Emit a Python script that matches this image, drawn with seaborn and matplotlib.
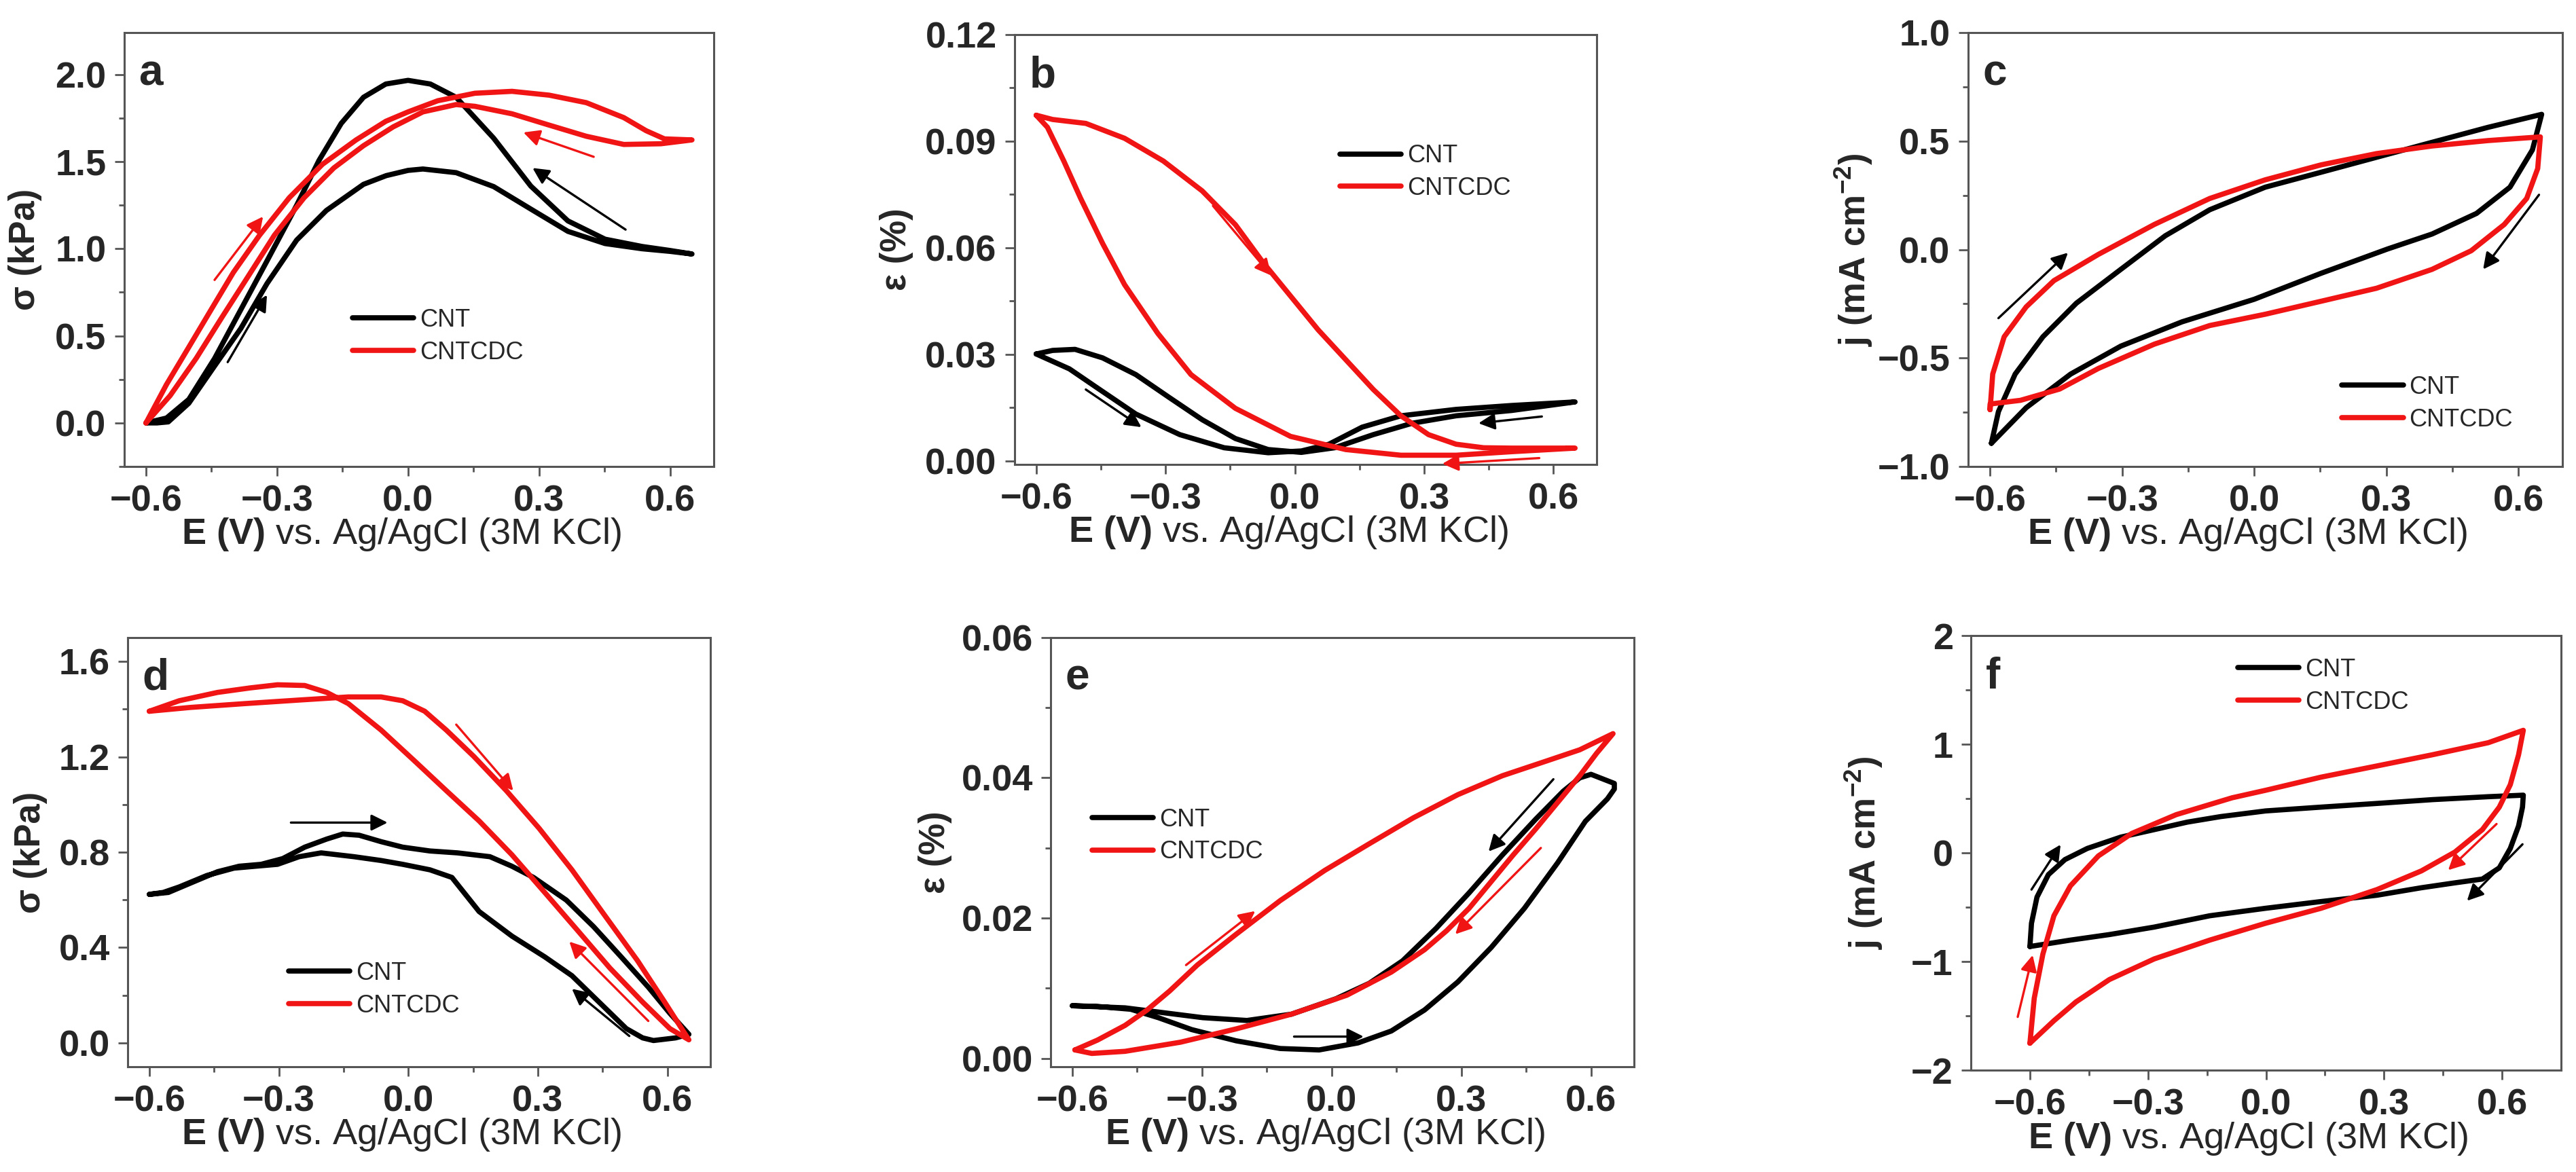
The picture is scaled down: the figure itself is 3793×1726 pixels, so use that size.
import pandas as pd
import matplotlib.pyplot as plt
import seaborn as sns

# ---- data (E in V, values per panel) ----
# a: stress sigma (kPa)
a_cnt_E = [-0.6, -0.575, -0.549, -0.502, -0.443, -0.383, -0.323, -0.255, -0.187, -0.102, -0.05, 0.0, 0.034,
           0.11, 0.196, 0.281, 0.366, 0.451, 0.536, 0.60, 0.65,
           0.60, 0.536, 0.451, 0.366, 0.281, 0.196, 0.11, 0.051, 0.0, -0.051, -0.102, -0.153, -0.204,
           -0.255, -0.323, -0.383, -0.443, -0.502, -0.553, -0.6]
a_cnt_s = [0.0, 0.0, 0.006, 0.113, 0.327, 0.542, 0.80, 1.05, 1.22, 1.37, 1.42, 1.45, 1.458,
           1.437, 1.357, 1.228, 1.10, 1.03, 1.00, 0.985, 0.97,
           0.99, 1.013, 1.055, 1.16, 1.36, 1.635, 1.87, 1.946, 1.967, 1.946, 1.87, 1.72, 1.507,
           1.25, 0.93, 0.65, 0.37, 0.135, 0.028, 0.0]
a_cdc_E = [-0.6, -0.553, -0.502, -0.451, -0.40, -0.34, -0.272, -0.196, -0.119, -0.051, 0.0, 0.068, 0.153,
           0.238, 0.323, 0.408, 0.494, 0.545, 0.587, 0.65,
           0.579, 0.494, 0.408, 0.323, 0.238, 0.153, 0.11, 0.034, -0.034, -0.102, -0.17, -0.238,
           -0.306, -0.366, -0.426, -0.485, -0.545, -0.6]
a_cdc_s = [0.0, 0.221, 0.435, 0.65, 0.864, 1.078, 1.293, 1.485, 1.625, 1.732, 1.786, 1.85, 1.893,
           1.904, 1.882, 1.839, 1.753, 1.678, 1.631, 1.625,
           1.603, 1.599, 1.646, 1.71, 1.775, 1.818, 1.828, 1.786, 1.70, 1.592, 1.464, 1.293,
           1.078, 0.842, 0.607, 0.371, 0.156, 0.0]

# b: strain epsilon (%)
b_cnt_E = [-0.6, -0.523, -0.459, -0.369, -0.267, -0.164, -0.062, 0.015, 0.079, 0.156, 0.246, 0.374, 0.503, 0.65,
           0.503, 0.374, 0.272, 0.182, 0.092, 0.015, -0.062, -0.138, -0.215, -0.292, -0.369, -0.446,
           -0.510, -0.562, -0.6]
b_cnt_e = [0.0301, 0.0259, 0.0206, 0.0132, 0.0074, 0.0037, 0.0023, 0.0028, 0.0047, 0.0095, 0.0127, 0.0145,
           0.0156, 0.0166,
           0.0142, 0.0127, 0.0106, 0.0074, 0.0037, 0.0024, 0.0032, 0.0063, 0.0116, 0.0179, 0.0243, 0.029,
           0.0314, 0.0311, 0.0301]
b_cdc_E = [-0.6, -0.562, -0.485, -0.395, -0.305, -0.215, -0.138, -0.074, -0.010, 0.054, 0.118, 0.182, 0.246,
           0.31, 0.374, 0.438, 0.503, 0.65,
           0.503, 0.374, 0.246, 0.118, -0.010, -0.138, -0.241, -0.318, -0.395, -0.446, -0.497, -0.536,
           -0.574, -0.6]
b_cdc_e = [0.0973, 0.0961, 0.095, 0.0908, 0.0844, 0.0760, 0.0665, 0.0559, 0.0464, 0.0369, 0.0285, 0.0201,
           0.0127, 0.0074, 0.0047, 0.0037, 0.0036, 0.0036,
           0.0026, 0.0016, 0.0016, 0.0032, 0.0069, 0.0148, 0.0243, 0.0359, 0.0496, 0.0612, 0.0739, 0.0844,
           0.0939, 0.0973]

# c: current density j (mA cm-2)
c_cnt_E = [-0.597, -0.581, -0.543, -0.48, -0.404, -0.303, -0.202, -0.101, 0.025, 0.152, 0.278, 0.404, 0.531,
           0.653,
           0.632, 0.581, 0.505, 0.404, 0.303, 0.152, 0.0, -0.164, -0.303, -0.417, -0.518, -0.597]
c_cnt_j = [-0.893, -0.747, -0.574, -0.402, -0.247, -0.091, 0.064, 0.184, 0.288, 0.357, 0.426, 0.495, 0.564,
           0.624,
           0.46, 0.288, 0.167, 0.072, 0.003, -0.109, -0.229, -0.333, -0.445, -0.574, -0.729, -0.893]
c_cdc_E = [-0.6, -0.594, -0.568, -0.518, -0.455, -0.354, -0.227, -0.101, 0.025, 0.152, 0.278, 0.404, 0.531,
           0.65,
           0.644, 0.619, 0.568, 0.493, 0.404, 0.278, 0.152, 0.025, -0.101, -0.227, -0.354, -0.442, -0.531,
           -0.6, -0.6]
c_cdc_j = [-0.738, -0.574, -0.402, -0.264, -0.143, -0.022, 0.116, 0.236, 0.322, 0.391, 0.443, 0.478, 0.503,
           0.52,
           0.374, 0.236, 0.116, -0.005, -0.091, -0.178, -0.238, -0.298, -0.35, -0.436, -0.548, -0.643,
           -0.695, -0.712, -0.738]

# d: stress sigma (kPa)
d_cnt_E = [-0.6, -0.556, -0.505, -0.442, -0.392, -0.341, -0.291, -0.24, -0.189, -0.152, -0.114, -0.063,
           -0.013, 0.05, 0.114, 0.189, 0.24, 0.29, 0.366, 0.429, 0.493, 0.556, 0.606, 0.65,
           0.619, 0.568, 0.543, 0.505, 0.442, 0.379, 0.316, 0.24, 0.164, 0.101, 0.05, -0.013, -0.063,
           -0.126, -0.202, -0.253, -0.303, -0.354, -0.404, -0.467, -0.531, -0.568, -0.6]
d_cnt_s = [0.623, 0.631, 0.67, 0.718, 0.741, 0.749, 0.773, 0.821, 0.855, 0.876, 0.871, 0.844,
           0.821, 0.805, 0.797, 0.781, 0.741, 0.694, 0.599, 0.488, 0.361, 0.234, 0.124, 0.036,
           0.021, 0.01, 0.021, 0.06, 0.171, 0.282, 0.361, 0.448, 0.551, 0.694, 0.726, 0.749, 0.765,
           0.781, 0.797, 0.781, 0.749, 0.741, 0.733, 0.702, 0.654, 0.631, 0.623]
d_cdc_E = [-0.6, -0.505, -0.379, -0.253, -0.139, -0.063, -0.013, 0.038, 0.088, 0.152, 0.227, 0.303, 0.379,
           0.455, 0.531, 0.594, 0.65,
           0.606, 0.543, 0.467, 0.392, 0.316, 0.24, 0.164, 0.088, 0.013, -0.063, -0.139, -0.189, -0.24,
           -0.303, -0.366, -0.442, -0.531, -0.6]
d_cdc_s = [1.391, 1.407, 1.423, 1.438, 1.451, 1.451, 1.435, 1.391, 1.312, 1.201, 1.058, 0.90, 0.726,
           0.535, 0.345, 0.171, 0.013,
           0.06, 0.171, 0.314, 0.472, 0.631, 0.789, 0.931, 1.058, 1.185, 1.312, 1.423, 1.47, 1.499,
           1.502, 1.489, 1.47, 1.435, 1.391]

# e: strain epsilon (%)
e_cnt_E = [-0.6, -0.542, -0.465, -0.401, -0.324, -0.221, -0.119, -0.029, 0.061, 0.138, 0.215, 0.292, 0.369,
           0.446, 0.523, 0.587, 0.638, 0.654, 0.654, 0.6,
           0.574, 0.536, 0.472, 0.395, 0.318, 0.241, 0.164, 0.087, 0.01, -0.093, -0.196, -0.298, -0.401,
           -0.478, -0.6]
e_cnt_e = [0.0075, 0.0074, 0.007, 0.0058, 0.0041, 0.0025, 0.0014, 0.0012, 0.0022, 0.0039, 0.0069, 0.0109,
           0.0158, 0.0214, 0.0279, 0.0338, 0.037, 0.0384, 0.0392, 0.0405,
           0.04, 0.0381, 0.0341, 0.029, 0.0236, 0.0185, 0.0139, 0.0107, 0.0085, 0.0063, 0.0054, 0.0058,
           0.0066, 0.0072, 0.0075]
e_cdc_E = [-0.594, -0.542, -0.478, -0.427, -0.375, -0.311, -0.221, -0.119, -0.016, 0.087, 0.189, 0.292,
           0.395, 0.497, 0.574, 0.651,
           0.613, 0.574, 0.523, 0.472, 0.42, 0.369, 0.318, 0.266, 0.215, 0.138, 0.035, -0.093, -0.221,
           -0.35, -0.478, -0.555, -0.594]
e_cdc_e = [0.0012, 0.0026, 0.0047, 0.0069, 0.0096, 0.0133, 0.0177, 0.0225, 0.0268, 0.0306, 0.0343, 0.0376,
           0.0403, 0.0424, 0.044, 0.0463,
           0.0435, 0.0403, 0.0365, 0.0327, 0.029, 0.0252, 0.0214, 0.0182, 0.0155, 0.0123, 0.009, 0.0063,
           0.0042, 0.0023, 0.001, 0.0007, 0.0012]

# f: current density j (mA cm-2)
f_cnt_E = [-0.6, -0.596, -0.582, -0.553, -0.511, -0.454, -0.369, -0.284, -0.2, -0.115, -0.001, 0.14, 0.282,
           0.423, 0.565, 0.654,
           0.652, 0.642, 0.621, 0.593, 0.55, 0.48, 0.395, 0.282, 0.14, -0.001, -0.143, -0.284, -0.398,
           -0.497, -0.6]
f_cnt_j = [-0.862, -0.648, -0.407, -0.2, -0.062, 0.041, 0.145, 0.214, 0.283, 0.334, 0.386, 0.421, 0.455,
           0.49, 0.517, 0.531,
           0.421, 0.248, 0.041, -0.138, -0.241, -0.276, -0.321, -0.39, -0.448, -0.51, -0.579, -0.683,
           -0.752, -0.803, -0.862]
f_cdc_E = [-0.6, -0.589, -0.567, -0.539, -0.497, -0.426, -0.341, -0.228, -0.086, -0.001, 0.14, 0.282, 0.423,
           0.565, 0.654,
           0.642, 0.621, 0.593, 0.55, 0.48, 0.395, 0.282, 0.14, -0.001, -0.143, -0.284, -0.398, -0.483,
           -0.539, -0.6]
f_cdc_j = [-1.752, -1.338, -0.931, -0.579, -0.303, -0.028, 0.179, 0.352, 0.507, 0.576, 0.697, 0.80, 0.903,
           1.014, 1.128,
           0.903, 0.628, 0.421, 0.214, 0.007, -0.166, -0.338, -0.51, -0.648, -0.803, -0.976, -1.166,
           -1.372, -1.545, -1.752]

samples = ['CNT', 'CNTCDC']
colors = {'CNT': '#000000', 'CNTCDC': '#f01414'}
x_ticks = [-0.6, -0.3, 0.0, 0.3, 0.6]
x_minor = [-0.45, -0.15, 0.15, 0.45]

# panel layout / styling
panels = [
    dict(tag='a', data=(a_cnt_E, a_cnt_s, a_cdc_E, a_cdc_s), rect=[0.0482, 0.602, 0.2289, 0.370],
         ylim=(-0.24, 2.24), yt=[0.0, 0.5, 1.0, 1.5, 2.0], ym=[-0.25, 0.25, 0.75, 1.25, 1.75],
         xlim=(-0.65, 0.7), ylabel='σ (kPa)', ylx=-0.139, leg=(0.387, 0.30)),
    dict(tag='b', data=(b_cnt_E, b_cnt_e, b_cdc_E, b_cdc_e), rect=[0.3939, 0.6037, 0.2259, 0.3668],
         ylim=(-0.001, 0.12), yt=[0.0, 0.03, 0.06, 0.09, 0.12], ym=[0.015, 0.045, 0.075, 0.105],
         xlim=(-0.65, 0.7), ylabel='ε (%)', ylx=-0.174, leg=(0.559, 0.68)),
    dict(tag='c', data=(c_cnt_E, c_cnt_j, c_cdc_E, c_cdc_j), rect=[0.7640, 0.602, 0.2307, 0.370],
         ylim=(-1.0, 1.0), yt=[-1.0, -0.5, 0.0, 0.5, 1.0], ym=[-0.75, -0.25, 0.25, 0.75],
         xlim=(-0.65, 0.7), ylabel=r'$\mathbf{j\ (mA\ cm^{-2})}$', ylx=-0.158, leg=(0.629, 0.145)),
    dict(tag='d', data=(d_cnt_E, d_cnt_s, d_cdc_E, d_cdc_s), rect=[0.0496, 0.0898, 0.2262, 0.3662],
         ylim=(-0.1, 1.7), yt=[0.0, 0.4, 0.8, 1.2, 1.6], ym=[0.2, 0.6, 1.0, 1.4],
         xlim=(-0.65, 0.7), ylabel='σ (kPa)', ylx=-0.1375, leg=(0.276, 0.18)),
    dict(tag='e', data=(e_cnt_E, e_cnt_e, e_cdc_E, e_cdc_e), rect=[0.4079, 0.0898, 0.2265, 0.3662],
         ylim=(-0.0012, 0.06), yt=[0.0, 0.02, 0.04, 0.06], ym=[0.01, 0.03, 0.05],
         xlim=(-0.65, 0.7), ylabel='ε (%)', ylx=-0.169, leg=(0.071, 0.538)),
    dict(tag='f', data=(f_cnt_E, f_cnt_j, f_cdc_E, f_cdc_j), rect=[0.7651, 0.0869, 0.2291, 0.3708],
         ylim=(-2.0, 2.0), yt=[-2, -1, 0, 1, 2], ym=[-1.5, -0.5, 0.5, 1.5],
         xlim=(-0.75, 0.75), ylabel=r'$\mathbf{j\ (mA\ cm^{-2})}$', ylx=-0.146, leg=(0.452, 0.884)),
]

# scan-direction arrows: (panel, colour, tail, head)
arrows = [
    ('a', 'CNT', (-0.413, 0.349), (-0.323, 0.735)), ('a', 'CNT', (0.498, 1.11), (0.285, 1.464)),
    ('a', 'CNTCDC', (-0.443, 0.821), (-0.332, 1.185)), ('a', 'CNTCDC', (0.425, 1.528), (0.264, 1.668)),
    ('b', 'CNT', (-0.485, 0.0201), (-0.356, 0.0095)), ('b', 'CNT', (0.573, 0.0125), (0.426, 0.0106)),
    ('b', 'CNTCDC', (-0.19, 0.0718), (-0.055, 0.0522)), ('b', 'CNTCDC', (0.567, 0.0008), (0.342, -0.0008)),
    ('c', 'CNT', (-0.581, -0.316), (-0.423, -0.014)), ('c', 'CNT', (0.647, 0.253), (0.52, -0.091)),
    ('d', 'CNT', (-0.272, 0.924), (-0.048, 0.924)), ('d', 'CNT', (0.512, 0.029), (0.379, 0.227)),
    ('d', 'CNTCDC', (0.111, 1.335), (0.243, 1.058)), ('d', 'CNTCDC', (0.556, 0.092), (0.373, 0.425)),
    ('e', 'CNT', (0.513, 0.0398), (0.363, 0.0295)), ('e', 'CNT', (-0.087, 0.0031), (0.074, 0.0031)),
    ('e', 'CNTCDC', (-0.337, 0.0133), (-0.177, 0.021)), ('e', 'CNTCDC', (0.484, 0.030), (0.286, 0.0177)),
    ('f', 'CNT', (-0.596, -0.338), (-0.522, 0.076)), ('f', 'CNT', (0.652, 0.079), (0.511, -0.441)),
    ('f', 'CNTCDC', (-0.631, -1.51), (-0.593, -0.941)), ('f', 'CNTCDC', (0.586, 0.266), (0.463, -0.159)),
]

sns.set_theme(style='ticks')
narrow = ['Liberation Sans Narrow', 'Liberation Sans', 'DejaVu Sans']
plt.rcParams['font.family'] = narrow
plt.rcParams['mathtext.fontset'] = 'custom'
plt.rcParams['mathtext.rm'] = 'Liberation Sans'
plt.rcParams['mathtext.it'] = 'Liberation Sans:italic'
plt.rcParams['mathtext.bf'] = 'Liberation Sans:bold'

spine_col = '#555555'
fig = plt.figure(figsize=(37.93, 17.26), dpi=100)

for p in panels:
    ax = fig.add_axes(p['rect'])
    cE, cv, rE, rv = p['data']
    df = pd.concat([
        pd.DataFrame({'E': cE, 'v': cv, 'sample': 'CNT'}),
        pd.DataFrame({'E': rE, 'v': rv, 'sample': 'CNTCDC'}),
    ], ignore_index=True)
    sns.lineplot(data=df, x='E', y='v', hue='sample', hue_order=samples, palette=colors,
                 sort=False, estimator=None, lw=5.5, ax=ax)
    for ln in ax.get_lines():
        ln.set_solid_joinstyle('round')
        ln.set_solid_capstyle('round')

    for tag, s, tail, head in arrows:
        if tag == p['tag']:
            ax.annotate('', xy=head, xytext=tail,
                        arrowprops=dict(arrowstyle='-|>', color=colors[s], lw=2.4,
                                        mutation_scale=36, shrinkA=0, shrinkB=0))

    ax.set_xlim(*p['xlim'])
    ax.set_ylim(*p['ylim'])
    ax.set_xticks(x_ticks)
    ax.set_xticks(x_minor, minor=True)
    ax.set_yticks(p['yt'])
    ax.set_yticks(p['ym'], minor=True)
    ax.tick_params(which='major', length=10, width=2, color=spine_col, labelsize=39, pad=9)
    ax.tick_params(which='minor', length=6, width=2, color=spine_col)
    plt.setp(ax.get_xticklabels() + ax.get_yticklabels(), fontweight='bold')
    for sp in ax.spines.values():
        sp.set_color(spine_col)
        sp.set_linewidth(2.2)

    ax.set_xlabel(r'$\mathbf{E\ (V)}$ vs. Ag/AgCl (3M KCl)', fontsize=39)
    ax.xaxis.set_label_coords(0.47, -0.115)
    ax.set_ylabel(p['ylabel'], fontsize=38, fontweight='bold')
    ax.yaxis.set_label_coords(p['ylx'], 0.5)

    ax.text(0.025, 0.905, p['tag'], transform=ax.transAxes, fontsize=46, fontweight='bold',
            ha='left', va='center')

    ax.legend(loc='center left', bbox_to_anchor=p['leg'], frameon=False, fontsize=26,
              handlelength=2.5, handletextpad=0.25, labelspacing=0.35, borderpad=0,
              borderaxespad=0)

fig.savefig('out.png', dpi=100)
